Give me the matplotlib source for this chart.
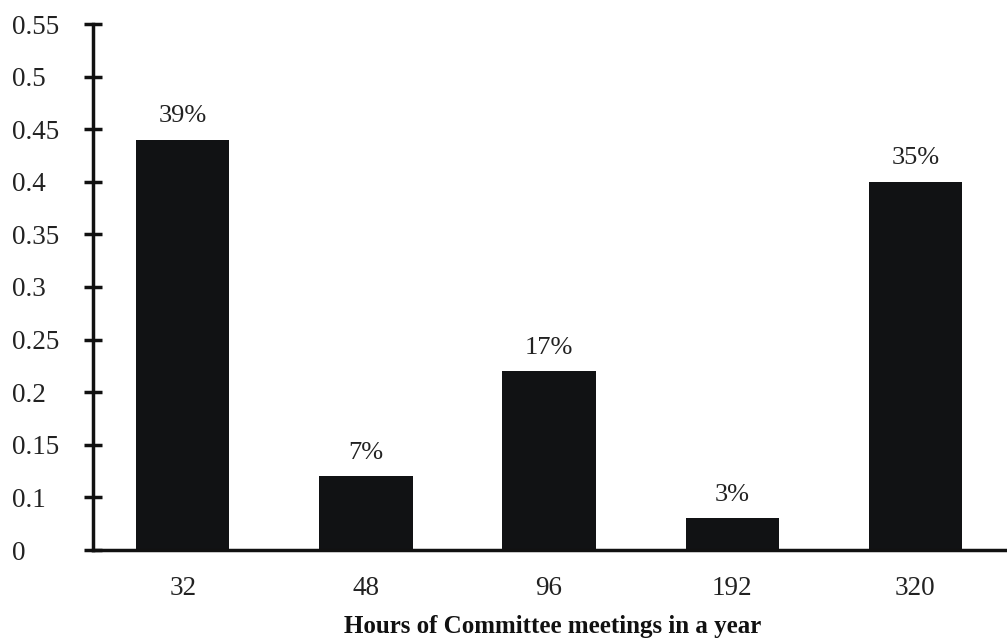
import matplotlib
matplotlib.use("Agg")
import matplotlib.pyplot as plt

# Share of respondents by annual hours of committee meetings
categories = ["32", "48", "96", "192", "320"]
shares = [0.39, 0.07, 0.17, 0.03, 0.35]
bar_labels = ["39%", "7%", "17%", "3%", "35%"]
ytick_values = [0.0, 0.05, 0.10, 0.15, 0.20, 0.25, 0.30, 0.35, 0.40, 0.45, 0.50]
ytick_labels = ["0", "0.1", "0.15", "0.2", "0.25", "0.3", "0.35", "0.4", "0.45", "0.5", "0.55"]

plt.rcParams["font.family"] = ["Liberation Serif", "DejaVu Serif"]

fig = plt.figure(figsize=(10.07, 6.40), dpi=100)
ax = fig.add_axes([93 / 1007, 1 - 550 / 640, 1 - 93 / 1007, (550 - 24) / 640])

x = list(range(len(categories)))
ax.bar(x, shares, width=0.51, color="#111214", edgecolor="none", zorder=2)

for xi, v, lab in zip(x, shares, bar_labels):
    ax.annotate(lab, (xi, v), xytext=(0, 9), textcoords="offset points",
                ha="center", va="bottom", fontsize=19, color="#222222")

ax.set_xlim(-0.49, 4.5)
ax.set_ylim(0, 0.5)
ax.set_xticks(x)
ax.set_xticklabels(categories)
ax.set_yticks(ytick_values)
ax.set_yticklabels(ytick_labels)

for side in ("top", "right"):
    ax.spines[side].set_visible(False)
ax.spines["left"].set_linewidth(2.5)
ax.spines["bottom"].set_linewidth(2.5)
ax.spines["left"].set_color("#111111")
ax.spines["bottom"].set_color("#111111")
ax.spines["bottom"].set_bounds(-0.49, 4.5)

ax.tick_params(axis="y", direction="inout", length=13, width=2.5, color="#111111",
               labelsize=19.5, labelcolor="#222222", pad=52)
ax.tick_params(axis="x", length=0, labelsize=19.5, labelcolor="#222222", pad=19)
for lbl in ax.get_yticklabels():
    lbl.set_horizontalalignment("left")

# Axis title placed in figure coordinates so it sits near the bottom edge
fig.text(553 / 1007, 1 - 633 / 640, "Hours of Committee meetings in a year",
         ha="center", va="baseline", fontsize=18, fontweight="bold", color="#111111")

fig.savefig("out.png", dpi=100)
